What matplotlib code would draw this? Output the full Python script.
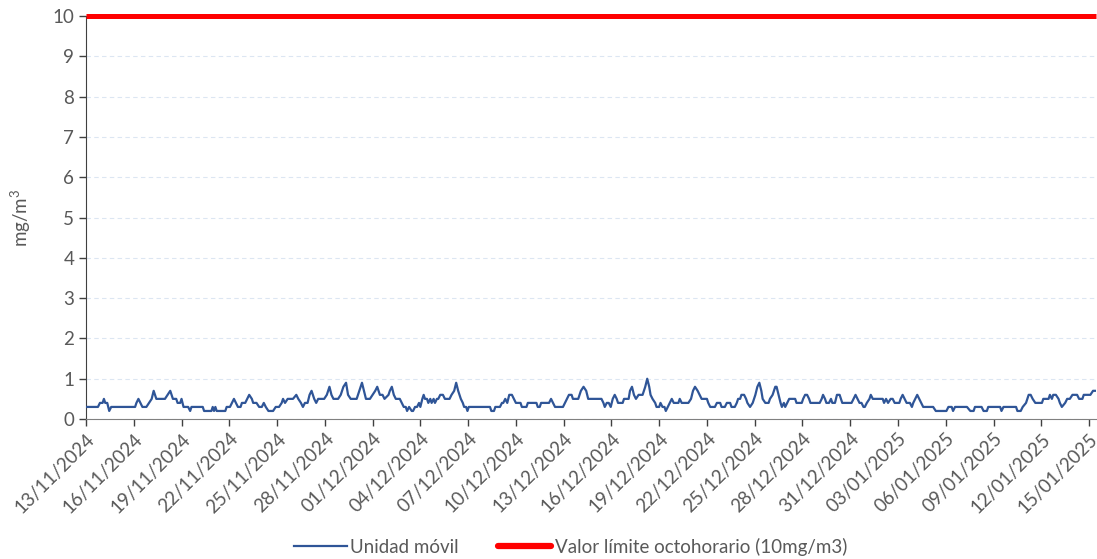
import matplotlib
matplotlib.use("Agg")
import matplotlib.pyplot as plt
from matplotlib.lines import Line2D
import numpy as np
import pandas as pd

start = "2024-11-13 00:00"
# hours after start, and the 8-hour CO value (mg/m3)
hours = [0, 18, 21, 25, 27, 29, 32, 35, 38, 74, 76, 79, 82, 85, 91, 95, 99, 102, 106, 119,
         123, 127, 131, 136, 138, 142, 144, 147, 154, 157, 159, 176, 178, 189, 191, 193, 195, 197, 210, 212,
         217, 220, 223, 226, 229, 233, 235, 240, 243, 246, 250,
         252, 257, 261, 265, 268, 271, 275, 282, 286, 291, 295, 297, 300, 304, 312, 317, 320, 324, 327,
         330, 334, 337, 340, 344, 347, 350, 359, 363, 367, 370, 373, 380, 384, 388, 392, 395, 399, 408,
         412, 416, 419, 422, 428, 432, 436, 439, 443, 447, 450, 456, 458, 461, 464, 467, 473, 476, 479,
         482, 484, 487, 491, 493, 496, 499, 502, 504, 507,
         509, 511, 514, 516, 519, 521, 524, 526, 529, 531, 534, 538, 541, 548, 551, 555, 558, 561, 565,
         568, 570, 573, 575, 577, 609, 611, 615, 617, 624, 627, 629, 632, 635, 638, 642, 645, 648, 655,
         657, 664, 666, 679, 681, 684, 686, 698, 701, 704, 707, 719, 722, 725, 728, 732, 734, 742, 746,
         750, 754, 757,
         765, 777, 780, 782, 785, 788, 791, 794, 797, 800, 802, 809, 811, 818, 820, 823, 826, 829, 833,
         839, 843, 846, 849, 851, 854, 858, 860, 864, 866, 869, 872, 874, 877, 880, 883, 886, 893, 895,
         898, 908, 912, 915, 918, 922, 925, 928, 936, 938, 941, 948, 951, 956, 958, 963, 966, 971, 973,
         978, 981, 983, 986, 988, 992, 995, 997, 1001, 1005, 1009, 1012, 1015, 1018, 1020,
         1024, 1029, 1031, 1035, 1039, 1041, 1044, 1047, 1049, 1052, 1054, 1057, 1060, 1069, 1071, 1079,
         1081, 1084, 1087, 1090, 1092, 1106, 1109, 1111, 1114, 1116, 1120, 1123, 1125, 1129, 1132, 1136,
         1138, 1140, 1154, 1157, 1160, 1163, 1166, 1169, 1172, 1174, 1177, 1181, 1183, 1186, 1201, 1203,
         1206, 1209, 1213, 1216, 1219, 1226, 1228, 1231, 1234, 1237, 1242, 1245, 1247, 1250, 1253, 1256,
         1259, 1262,
         1277, 1281, 1297, 1300, 1305, 1307, 1310, 1328, 1333, 1338, 1340, 1350, 1353, 1358, 1360, 1378,
         1380, 1383, 1402, 1404, 1409, 1412, 1417, 1421, 1424, 1427, 1431, 1441, 1443, 1451, 1453, 1456,
         1458, 1462, 1466, 1468, 1471, 1476, 1479, 1483, 1487, 1491, 1494, 1497, 1502, 1504, 1509, 1514,
         1518, 1523]
values = [0.3, 0.3, 0.4, 0.4, 0.5, 0.4, 0.4, 0.2, 0.3, 0.3, 0.4, 0.5, 0.4, 0.3, 0.3, 0.4, 0.5, 0.7, 0.5, 0.5,
          0.6, 0.7, 0.5, 0.5, 0.4, 0.4, 0.5, 0.3, 0.3, 0.2, 0.3, 0.3, 0.2, 0.2, 0.3, 0.2, 0.3, 0.2, 0.2, 0.3,
          0.3, 0.4, 0.5, 0.4, 0.3, 0.3, 0.4, 0.4, 0.5, 0.6, 0.5,
          0.4, 0.4, 0.3, 0.3, 0.4, 0.3, 0.2, 0.2, 0.3, 0.3, 0.4, 0.5, 0.4, 0.5, 0.5, 0.6, 0.5, 0.4, 0.3,
          0.4, 0.4, 0.6, 0.7, 0.5, 0.4, 0.5, 0.5, 0.6, 0.8, 0.6, 0.5, 0.5, 0.6, 0.8, 0.9, 0.6, 0.5, 0.5,
          0.7, 0.9, 0.7, 0.5, 0.5, 0.6, 0.7, 0.8, 0.6, 0.6, 0.5, 0.6, 0.7, 0.8, 0.6, 0.5, 0.5, 0.4, 0.3,
          0.3, 0.2, 0.3, 0.2, 0.2, 0.3, 0.3, 0.4, 0.3, 0.5,
          0.6, 0.5, 0.5, 0.4, 0.5, 0.4, 0.5, 0.4, 0.5, 0.5, 0.6, 0.6, 0.5, 0.5, 0.6, 0.7, 0.9, 0.7, 0.5,
          0.4, 0.3, 0.3, 0.2, 0.3, 0.3, 0.2, 0.2, 0.3, 0.3, 0.4, 0.4, 0.5, 0.4, 0.6, 0.6, 0.5, 0.4, 0.4,
          0.3, 0.3, 0.4, 0.4, 0.3, 0.3, 0.4, 0.4, 0.5, 0.4, 0.3, 0.3, 0.4, 0.5, 0.6, 0.6, 0.5, 0.5, 0.7,
          0.8, 0.7, 0.5,
          0.5, 0.5, 0.4, 0.3, 0.4, 0.4, 0.3, 0.5, 0.6, 0.5, 0.4, 0.4, 0.5, 0.5, 0.7, 0.8, 0.6, 0.5, 0.6,
          0.6, 0.8, 1.0, 0.8, 0.6, 0.5, 0.4, 0.3, 0.3, 0.4, 0.3, 0.3, 0.2, 0.3, 0.4, 0.5, 0.4, 0.4, 0.5,
          0.4, 0.4, 0.5, 0.7, 0.8, 0.7, 0.6, 0.5, 0.5, 0.4, 0.3, 0.3, 0.4, 0.4, 0.3, 0.3, 0.4, 0.4, 0.3,
          0.3, 0.4, 0.5, 0.5, 0.6, 0.6, 0.5, 0.4, 0.3, 0.4, 0.6, 0.8, 0.9, 0.7, 0.5,
          0.4, 0.4, 0.5, 0.6, 0.8, 0.8, 0.6, 0.4, 0.3, 0.4, 0.3, 0.4, 0.5, 0.5, 0.4, 0.4,
          0.5, 0.6, 0.6, 0.5, 0.4, 0.4, 0.5, 0.6, 0.5, 0.4, 0.4, 0.5, 0.4, 0.4, 0.6, 0.6,
          0.5, 0.4, 0.4, 0.5, 0.6, 0.5, 0.4, 0.4, 0.3, 0.3, 0.4, 0.5, 0.6, 0.5, 0.5, 0.4,
          0.5, 0.4, 0.5, 0.5, 0.4, 0.4, 0.5, 0.6, 0.5, 0.4, 0.4, 0.3, 0.4, 0.5, 0.6, 0.5,
          0.4, 0.3,
          0.3, 0.2, 0.2, 0.3, 0.3, 0.2, 0.3, 0.3, 0.2, 0.2, 0.3, 0.3, 0.2, 0.2, 0.3, 0.3,
          0.2, 0.3, 0.3, 0.2, 0.2, 0.3, 0.4, 0.6, 0.6, 0.5, 0.4, 0.4, 0.5, 0.5, 0.6, 0.5,
          0.6, 0.6, 0.5, 0.4, 0.3, 0.4, 0.5, 0.5, 0.6, 0.6, 0.6, 0.5, 0.5, 0.6, 0.6, 0.6,
          0.7, 0.7]
limit_value = 10
series_names = ["Unidad móvil", "Valor límite octohorario (10mg/m3)"]
y_label = "mg/m$^3$"

plt.rcParams['font.family'] = ['Lato', 'DejaVu Sans']
plt.rcParams['mathtext.fontset'] = 'custom'
plt.rcParams['mathtext.rm'] = 'Lato'
plt.rcParams['mathtext.it'] = 'Lato'

t0 = pd.Timestamp(start)
times = t0 + pd.to_timedelta(hours, unit="h")
t_end = t0 + pd.Timedelta(hours=hours[-1])

fig = plt.figure(figsize=(10.97, 5.59), dpi=100)
ax = fig.add_axes([0.0784, 0.2504, 0.921, 0.721])

blue = "#2f5597"
red = "#ff0000"
ax.plot(times, values, color=blue, lw=1.6, zorder=3)
ax.plot([t0, t_end], [limit_value, limit_value], color=red, lw=3.6,
        zorder=4, solid_capstyle="butt", clip_on=False)

ax.set_xlim(t0, t_end)
ax.set_ylim(0, 10)
ax.set_yticks(range(0, 11))
ax.yaxis.grid(True, color="#dce6f2", linestyle=(0, (4, 3)), lw=0.8)
ax.set_axisbelow(True)

ticks = pd.date_range(t0, t_end, freq="3D")
ax.set_xticks(ticks)
ax.set_xticklabels([d.strftime("%d/%m/%Y") for d in ticks], rotation=45, ha="right",
                   rotation_mode="anchor")
ax.tick_params(axis="both", colors="#404040", labelcolor="#595959", labelsize=13.5,
               length=5, width=1)
ax.tick_params(axis="x", pad=3)

for s in ["top", "right"]:
    ax.spines[s].set_visible(False)
ax.spines["left"].set_color("#404040")
ax.spines["bottom"].set_color("#808080")

ax.set_ylabel(y_label, color="#595959", fontsize=13.5)
ax.yaxis.set_label_coords(-0.052, 0.5)

handles = [Line2D([], [], color=blue, lw=1.6),
           Line2D([], [], color=red, lw=4.5, solid_capstyle="round")]
fig.legend(handles, series_names, loc="lower center", bbox_to_anchor=(0.52, -0.024), ncol=2,
           frameon=False, fontsize=13.5, labelcolor="#595959", handlelength=2.8,
           columnspacing=2.1, handletextpad=0.2)

fig.savefig("out.png", dpi=100)
